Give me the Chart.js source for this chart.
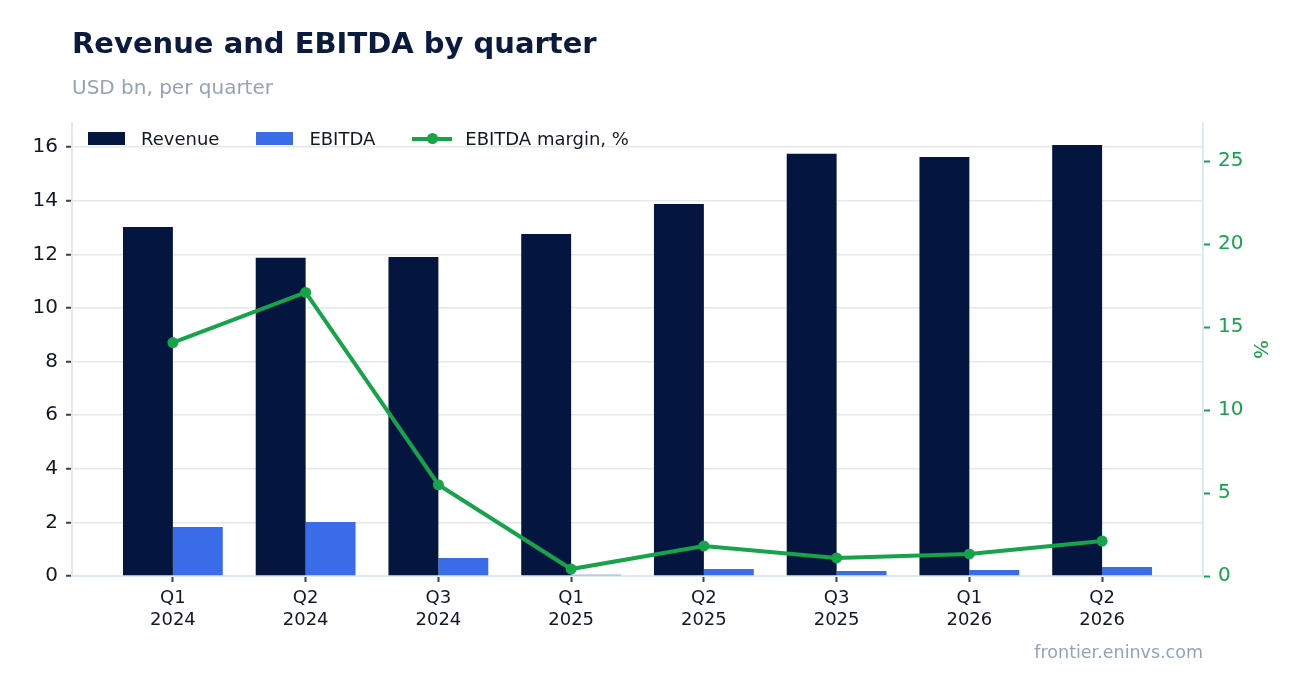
<!DOCTYPE html>
<html>
<head>
<meta charset="utf-8">
<script src="https://cdn.jsdelivr.net/npm/chart.js@4/dist/chart.umd.min.js"></script>
<style>
  html, body { margin: 0; padding: 0; background: #ffffff; }
  body { width: 1302px; height: 693px; position: relative; overflow: hidden;
         font-family: 'DejaVu Sans', sans-serif; }
  #wrap { position: absolute; left: 0; top: 0; width: 1302px; height: 693px; }
  .title { position: absolute; left: 72px; top: 26px; font-size: 29px; font-weight: bold; color: #0b1a3f; }
  .subtitle { position: absolute; left: 72px; top: 75px; font-size: 20px; color: #94a3b8; }
  .footer { position: absolute; right: 99px; top: 642px; font-size: 17.5px; color: #94a3b8; }
  .legend { position: absolute; left: 88px; top: 128px; font-size: 18px; color: #111827; display: flex; align-items: center; }
  .legend .item { display: flex; align-items: center; margin-right: 37px; }
  .legend .sw { width: 37px; height: 13px; margin-right: 16px; }
  .legend .ln { position: relative; width: 40px; height: 4px; background: #16a34a; margin-right: 13px; }
  .legend .ln::after { content: ''; position: absolute; left: 14.5px; top: -3.5px; width: 11px; height: 11px; border-radius: 50%; background: #16a34a; }
</style>
</head>
<body>
<div id="wrap"><canvas id="chart" width="1302" height="693"></canvas></div>
<div class="title">Revenue and EBITDA by quarter</div>
<div class="subtitle">USD bn, per quarter</div>
<div class="legend">
  <div class="item"><div class="sw" style="background:#041640"></div>Revenue</div>
  <div class="item"><div class="sw" style="background:#3a6be8"></div>EBITDA</div>
  <div class="item"><div class="ln"></div>EBITDA margin, %</div>
</div>
<div class="footer">frontier.eninvs.com</div>
<script>
// Quarter labels
const quarters = ['Q1', 'Q2', 'Q3', 'Q1', 'Q2', 'Q3', 'Q1', 'Q2'];
const years = ['2024', '2024', '2024', '2025', '2025', '2025', '2026', '2026'];

// Values, USD bn
const revenue = [13.02, 11.87, 11.90, 12.76, 13.88, 15.75, 15.63, 16.08];
const ebitda = [1.83, 2.01, 0.67, 0.05, 0.26, 0.19, 0.22, 0.34];

// EBITDA margin, %
const margin = [14.07, 17.09, 5.5, 0.42, 1.81, 1.09, 1.33, 2.11];

const toPoints = arr => arr.map((v, i) => ({ x: i, y: v }));

const tickFont = { family: "'DejaVu Sans', sans-serif", size: 20 };

new Chart(document.getElementById('chart'), {
    type: 'bar',
    data: {
        datasets: [
            {
                type: 'line',
                label: 'EBITDA margin, %',
                data: toPoints(margin),
                yAxisID: 'y1',
                borderColor: '#16a34a',
                backgroundColor: '#16a34a',
                borderWidth: 4,
                pointRadius: 5.5,
                pointHoverRadius: 5.5,
                pointBorderWidth: 0,
                tension: 0,
                order: 0
            },
            {
                label: 'Revenue',
                data: toPoints(revenue),
                yAxisID: 'y',
                backgroundColor: '#041640',
                categoryPercentage: 0.752,
                barPercentage: 1.0,
                order: 1
            },
            {
                label: 'EBITDA',
                data: toPoints(ebitda),
                yAxisID: 'y',
                backgroundColor: '#3a6be8',
                categoryPercentage: 0.752,
                barPercentage: 1.0,
                order: 1
            }
        ]
    },
    options: {
        responsive: false,
        animation: false,
        layout: { padding: { top: 123, left: 0, right: 27, bottom: 0 } },
        plugins: {
            legend: { display: false },
            tooltip: { enabled: false }
        },
        scales: {
            x: {
                type: 'linear',
                offset: false,
                min: -0.76,
                max: 7.76,
                afterFit: s => { s.height = 117; },
                afterBuildTicks: s => { s.ticks = quarters.map((q, i) => ({ value: i })); },
                grid: { offset: false, drawOnChartArea: false, tickLength: 6, tickColor: '#374151', tickWidth: 2 },
                border: { color: '#e2e8f0', width: 2 },
                ticks: {
                    color: '#111827',
                    font: { family: "'DejaVu Sans', sans-serif", size: 18 },
                    padding: 6,
                    maxRotation: 0,
                    autoSkip: false,
                    callback: v => [quarters[v], years[v]]
                }
            },
            y: {
                position: 'left',
                min: 0,
                max: 16.9,
                afterFit: s => { s.width = 72; },
                grid: { color: '#e5e7eb', lineWidth: 1.5, tickLength: 6, tickColor: '#374151', tickWidth: 2 },
                border: { color: '#e2e8f0', width: 2 },
                ticks: { stepSize: 2, includeBounds: false, color: '#111827', font: tickFont, padding: 8 }
            },
            y1: {
                position: 'right',
                min: 0,
                max: 27.3,
                afterFit: s => { s.width = 72; },
                grid: { drawOnChartArea: false, tickLength: 7, tickColor: '#16a34a', tickWidth: 2 },
                border: { color: '#e2e8f0', width: 2 },
                ticks: { stepSize: 5, includeBounds: false, color: '#16a34a', font: tickFont, padding: 8 },
                title: {
                    display: true,
                    text: '%',
                    color: '#16a34a',
                    font: { family: "'DejaVu Sans', sans-serif", size: 20 },
                    padding: 4
                }
            }
        }
    }
});
</script>
</body>
</html>
